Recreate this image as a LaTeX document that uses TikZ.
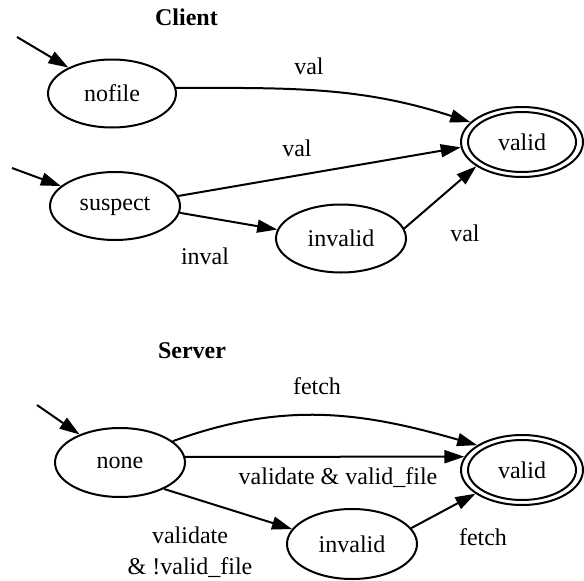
\documentclass[tikz,border=0pt]{standalone}
\usepackage{fontspec}
\setmainfont{Liberation Serif}
\usetikzlibrary{shapes.geometric,arrows.meta}

\tikzset{
  state/.style={ellipse, draw, line width=2pt, inner sep=0pt,
                minimum width=130pt, minimum height=68pt,
                font=\fontsize{24}{31}\selectfont},
  accept/.style={ellipse, draw, line width=2pt, inner sep=0pt,
                 minimum width=122pt, minimum height=70pt,
                 font=\fontsize{24}{31}\selectfont},
  lbl/.style={inner sep=0pt, align=center, font=\fontsize{24}{31}\selectfont},
  ttl/.style={inner sep=0pt, font=\fontsize{24}{31}\selectfont\bfseries},
  trans/.style={line width=2pt, -{Triangle[length=20pt,width=13pt]}},
}

\begin{document}
\begin{tikzpicture}[x=1pt,y=1pt]
  \useasboundingbox (0,0) rectangle (584,-581);

  % ---------- client automaton ----------
  \node[ttl] (ctitle) at (186.5,-17) {Client};

  \node[state, minimum width=128pt] (nofile)   at (112,-93.5) {nofile};
  \node[state]                      (suspect)  at (115,-206)  {suspect};
  \node[state]                      (cinvalid) at (341,-238.5) {invalid};
  \node[accept]                     (cvalid)   at (522,-142)  {valid};
  \draw[line width=2pt] (cvalid.center) ellipse [x radius=54, y radius=30];

  \coordinate (cstart1) at (17,-37);
  \coordinate (cstart2) at (12,-168);
  \draw[trans] (cstart1) -- (nofile);
  \draw[trans] (cstart2) -- (suspect);

  \draw[trans] (nofile.5) to[out=0, in=162] (cvalid.159);
  \draw[trans] (suspect.9) -- (cvalid.185);
  \draw[trans] (suspect.-6) -- (cinvalid.172);
  \draw[trans] (cinvalid.9) -- (cvalid.208);

  \node[lbl] (lv1) at (309,-66)  {val};
  \node[lbl] (lv2) at (297,-148) {val};
  \node[lbl] (li)  at (205,-256) {inval};
  \node[lbl] (lv3) at (465,-233) {val};

  % ---------- server automaton ----------
  \node[ttl] (stitle) at (192,-351) {Server};

  \node[state, minimum height=69pt] (none)     at (120,-462.5) {none};
  \node[state, minimum height=70pt] (sinvalid) at (352,-544)   {invalid};
  \node[accept]                     (svalid)   at (522,-470)   {valid};
  \draw[line width=2pt] (svalid.center) ellipse [x radius=54, y radius=30];

  \coordinate (sstart) at (37,-405);
  \draw[trans] (sstart) -- (none);

  \draw[trans] (none.22) to[out=20, in=164] (svalid.151);
  \draw[trans] (none.5) -- (svalid.167.4);
  \draw[trans] (none.-31) -- (sinvalid.166);
  \draw[trans] (sinvalid.15) -- (svalid.207);

  \node[lbl] (lf1) at (317,-386) {fetch};
  \node[lbl] (lvv) at (338,-478) {validate \& valid\_file};
  \node[lbl] (lvn) at (190,-552.5) {validate\\\& !valid\_file};
  \node[lbl] (lf2) at (483,-537) {fetch};
\end{tikzpicture}
\end{document}
